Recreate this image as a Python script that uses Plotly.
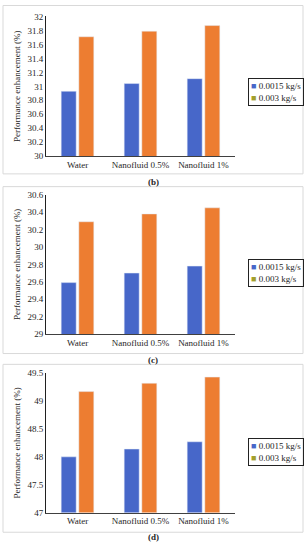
import plotly.graph_objects as go

categories = ["Water", "Nanofluid 0.5%", "Nanofluid 1%"]
series_names = ["0.0015 kg/s", "0.003 kg/s"]

# Panel (b)
b_low = [30.93, 31.04, 31.11]
b_high = [31.71, 31.79, 31.87]
# Panel (c)
c_low = [29.59, 29.70, 29.78]
c_high = [30.29, 30.38, 30.45]
# Panel (d)
d_low = [48.00, 48.14, 48.27]
d_high = [49.17, 49.32, 49.43]

panel_labels = ["(b)", "(c)", "(d)"]
y_ranges = [[30, 32], [29, 30.6], [47, 49.5]]
y_dticks = [0.2, 0.2, 0.5]

W, H = 308, 550
BLUE = "#4767c9"
ORANGE = "#ed7d31"
OLIVE = "#a39f2c"
FONT = "Times New Roman, Liberation Serif, DejaVu Serif, serif"
TXT = "#262626"

def px_y(p):
    return 1 - p / H

def px_x(p):
    return p / W

fig = go.Figure()
data = [(b_low, b_high), (c_low, c_high), (d_low, d_high)]
for i, (lo, hi) in enumerate(data):
    sfx = "" if i == 0 else str(i + 1)
    fig.add_trace(go.Bar(x=categories, y=lo, name=series_names[0], marker_color=BLUE,
                         xaxis="x" + sfx, yaxis="y" + sfx, showlegend=False))
    fig.add_trace(go.Bar(x=categories, y=hi, name=series_names[1], marker_color=ORANGE,
                         xaxis="x" + sfx, yaxis="y" + sfx, showlegend=False))

# pixel layout of each panel: (plot top, plot bottom, border top, border bottom, caption y, legend top)
panels = [
    (11.7, 154, 0.5, 172, 180, 74),
    (193.3, 335, 185, 355, 362, 259),
    (375, 517, 366, 537, 542, 441),
]

tickfont = dict(family=FONT, size=9, color=TXT)
layout = dict(
    width=W, height=H,
    margin=dict(l=0, r=0, t=0, b=0),
    paper_bgcolor="white", plot_bgcolor="white",
    barmode="group", bargap=0.44, bargroupgap=0.15,
    showlegend=False,
    font=dict(family=FONT, size=9, color=TXT),
)
shapes = []
annotations = []
for i, (pt, pb, bt, bb, cy, lt) in enumerate(panels):
    sfx = "" if i == 0 else str(i + 1)
    layout["xaxis" + sfx] = dict(
        domain=[px_x(46), px_x(235)], anchor="y" + sfx,
        showline=True, linecolor="#404040", linewidth=1,
        showgrid=False, ticks="", tickfont=tickfont, fixedrange=True,
    )
    layout["yaxis" + sfx] = dict(
        domain=[px_y(pb), px_y(pt)], anchor="x" + sfx,
        range=y_ranges[i], dtick=y_dticks[i], tick0=y_ranges[i][0],
        showline=True, linecolor="#202020", linewidth=1,
        showgrid=False, zeroline=False, ticks="", tickfont=tickfont,
        title=dict(text="Performance enhancement (%)", font=dict(family=FONT, size=9, color=TXT), standoff=5),
    )
    shapes.append(dict(type="rect", xref="paper", yref="paper",
                       x0=px_x(3), x1=px_x(303), y0=px_y(bb), y1=px_y(bt),
                       line=dict(color="#d9d9d9", width=1)))
    annotations.append(dict(text="<b>" + panel_labels[i] + "</b>", xref="paper", yref="paper",
                            x=px_x(153), y=px_y(cy), xanchor="center", yanchor="middle",
                            showarrow=False, font=dict(family=FONT, size=9, color=TXT)))
    legend_text = (f"<span style='color:{BLUE}'>■</span> {series_names[0]}<br>"
                   f"<span style='color:{OLIVE}'>■</span> {series_names[1]}")
    annotations.append(dict(text=legend_text, xref="paper", yref="paper",
                            x=px_x(248), y=px_y(lt), xanchor="left", yanchor="top",
                            align="left", showarrow=False,
                            bordercolor="#222222", borderwidth=1, borderpad=2,
                            font=dict(family=FONT, size=9, color=TXT)))

layout["shapes"] = shapes
layout["annotations"] = annotations
fig.update_layout(**layout)
fig.write_html("out.html", config={"displayModeBar": False},
               post_script="document.body.style.margin='0';document.body.style.overflow='hidden';")
